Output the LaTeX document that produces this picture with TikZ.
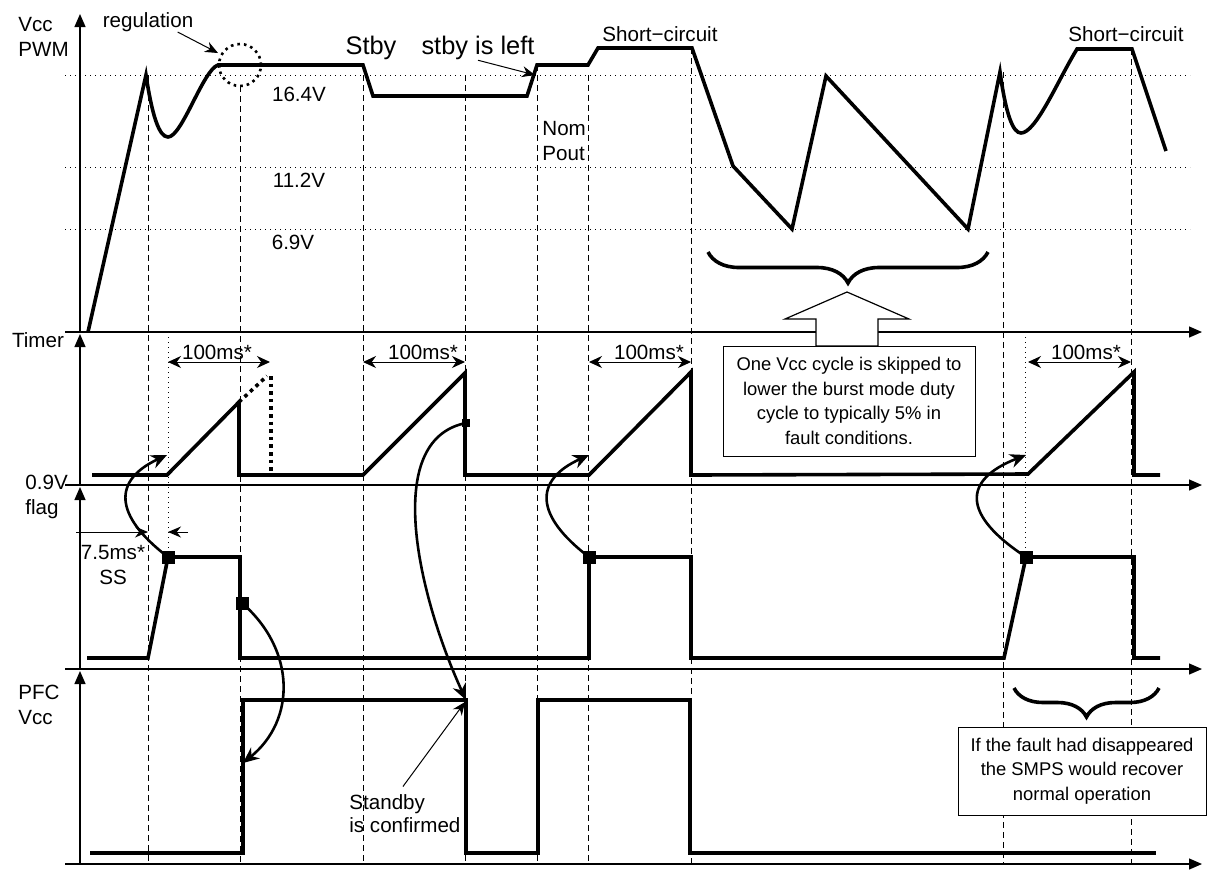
\documentclass[tikz,border=0pt]{standalone}
\usepackage{fontspec}
\setmainfont{Liberation Sans}
\usetikzlibrary{arrows.meta,decorations.pathreplacing}
\begin{document}
\begin{tikzpicture}[x=.5pt,y=-.5pt,
                    axis/.style={line width=.65pt,-{Triangle[length=6.5pt,width=5.5pt]}},
                    wave/.style={line width=1.8pt},
                    rail/.style={line width=.5pt,dotted},
                    guide/.style={line width=.5pt,dash pattern=on 3pt off 2pt},
                    span/.style={line width=.5pt,{Stealth[length=6.5pt,width=6pt]}-{Stealth[length=6.5pt,width=6pt]}},
                    hint/.style={line width=.5pt,-{Stealth[length=6.5pt,width=5.5pt]}},
                    swing/.style={line width=1.3pt,-{Stealth[length=8pt,width=7pt]}},
                    blob/.style={fill,inner sep=0pt,minimum size=6.5pt},
                    lab/.style={font=\fontsize{10.3}{12.3}\selectfont,inner sep=0pt},
                    big/.style={font=\fontsize{12.7}{15}\selectfont,inner sep=0pt},
                    note/.style={draw,fill=white,line width=.5pt,align=center,inner sep=0pt,
                                 font=\fontsize{9.2}{12.3}\selectfont}]
 \useasboundingbox (0,0) rectangle (1210,869);
 \foreach \y in {75,167,229} \draw[rail] (65,\y)--(1190,\y);
 \foreach \x/\t in {148/75,240/86,363/65,465/75,537/65,588/75,691/48,1003/72,1131/49}
  \draw[guide] (\x,\t)--(\x,864);
 \foreach \x in {168,1025} \draw[rail,line width=.4pt] (\x,332)--(\x,557);
 \foreach \y in {332,485,669,864} \draw[axis] (65,\y)--(1202,\y);
 \draw[axis] (80,332)--(80,14);
 \draw[axis] (80,485)--(80,334);
 \draw[axis] (80,669)--(80,487);
 \draw[axis] (80,864)--(80,671);
 \node[lab,anchor=west,align=left] (vpwm) at (18,37) {Vcc\\PWM};
 \node[lab] (timer) at (38,340) {Timer};
 \node[lab,anchor=west,align=left] (flag) at (25,497) {0.9V\\flag};
 \node[lab,anchor=west,align=left] (pfc) at (18,705) {PFC\\Vcc};
 \node[lab] at (299,94) {16.4V};
 \node[lab] at (299,180) {11.2V};
 \node[lab] at (293,242) {6.9V};
 % Vcc PWM
 \draw[wave] (88,332)--(146,75) .. controls (152,115) and (159,137) .. (168,137)
   .. controls (182,137) and (203,70) .. (218,65)--(363,65)--(373,96)--(527,96)--(537,65)
   --(588,65)--(598,48)--(692,48)--(733,166)--(792,229)--(826,76)--(968,229)--(1000,72)
   .. controls (1006,115) and (1013,133) .. (1021,133) .. controls (1036,133) and (1058,80) .. (1077,49)
   --(1132,49)--(1166,151);
 \draw[line width=1.3pt,dotted] (240,65) circle[radius=10.5pt];
 \node[lab] (reg) at (148,22) {regulation};
 \coordinate (regc) at (218,53);
 \draw[hint] ([xshift=-8pt]reg.south east)--(regc);
 \node[big] (stby) at (371,48) {Stby};
 \node[big] (left) at (478,48) {stby is left};
 \coordinate (leftc) at (535,75);
 \draw[hint] (left.south)--(leftc);
 \node[lab] (sc1) at (660,34) {Short−circuit};
 \node[lab] (sc2) at (1126,34) {Short−circuit};
 \node[lab,anchor=west,align=left,font=\fontsize{10.3}{12.5}\selectfont] (nom) at (542,141) {Nom\\Pout};
 \draw[wave,decorate,decoration={brace,mirror,amplitude=15.5pt}] (708,252)--(988,252);
 \draw[wave,decorate,decoration={brace,mirror,amplitude=14.5pt}] (1014,688)--(1159,688);
 % Timer
 \draw[wave] (92,475)--(167,475)--(239,402)--(239,475)--(363,475)--(465,373)--(465,475)--(589,475)
   --(691,372)--(691,475)--(1028,474)--(1134,372)--(1134,475)--(1160,475);
 \draw[wave,dotted] (239,402)--(267,376);
 \draw[wave,dotted] (271,376)--(271,475);
 \draw[span] (168,362)--(270,362);
 \draw[span] (363,362)--(465,362);
 \draw[span] (589,362)--(691,362);
 \draw[span] (1028,362)--(1131,362);
 \node[lab] at (217,352) {100ms*};
 \node[lab] at (423,352) {100ms*};
 \node[lab] at (649,352) {100ms*};
 \node[lab] at (1086,352) {100ms*};
 \draw[axis,line width=.6pt,fill=white] (847,292)--(909,319)--(878,319)--(878,346)--(816,346)--(816,319)--(785,319)--cycle;
 \node[note,minimum width=126pt,minimum height=55pt] (skip) at (849,401)
   {One Vcc cycle is skipped to\\lower the burst mode duty\\cycle to typically 5\% in\\fault conditions.};
 % flag
 \draw[wave] (87,658)--(148,658)--(168,557)--(240,557)--(240,658)--(589,658)--(589,557)--(691,557)
   --(691,658)--(1004,658)--(1026,557)--(1134,557)--(1134,658)--(1160,658);
 \draw[hint] (76,532)--(148,532);
 \draw[hint] (188,532)--(168,532);
 \node[lab,align=center,font=\fontsize{10.3}{12.5}\selectfont] (ss) at (113,565) {7.5ms*\\SS};
 % PFC Vcc
 \draw[wave] (90,853)--(243,853)--(243,700)--(466,700)--(466,853)--(538,853)--(538,700)--(690,700)
   --(690,853)--(1156,853);
 \node[lab,anchor=west,align=left,font=\fontsize{10.3}{11.5}\selectfont] (conf) at (349,814) {Standby\\is confirmed};
 \coordinate (confc) at (465,702);
 \draw[hint] ([xshift=-1pt,yshift=4pt]conf.north)--(confc);
 \node[note,minimum width=124pt,minimum height=44pt] (recover) at (1082,771)
   {If the fault had disappeared\\the SMPS would recover\\normal operation};
 % links
 \node[blob] (s1) at (168,557) {};
 \node[blob] (s2) at (242,603) {};
 \node[blob] (s3) at (589,557) {};
 \node[blob] (s4) at (1026,557) {};
 \node[blob,minimum size=4pt] (s5) at (466,423) {};
 \coordinate (r1) at (167,455);
 \coordinate (r3) at (589,455);
 \coordinate (r4) at (1026,455);
 \coordinate (p1) at (243,763);
 \coordinate (p2) at (466,700);
 \draw[swing] (s1.center) .. controls (113,515) and (113,480) .. (r1);
 \draw[swing] (s3.center) .. controls (534,515) and (534,480) .. (r3);
 \draw[swing] (s4.center) .. controls (962,515) and (962,480) .. (r4);
 \draw[swing] (s2.center) .. controls (296,650) and (296,720) .. (p1);
 \draw[swing] (s5.center) .. controls (380,440) and (420,600) .. (p2);
\end{tikzpicture}
\end{document}
